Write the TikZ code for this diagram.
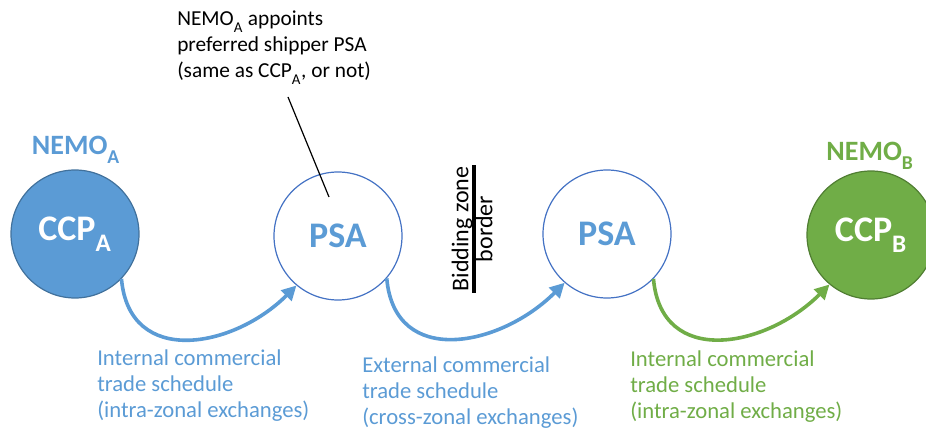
\documentclass[tikz,border=0pt]{standalone}
\usepackage{fontspec}
\setmainfont{Carlito}
\usetikzlibrary{arrows.meta}
\definecolor{nemoblue}{HTML}{5B9BD5}
\definecolor{nemoblueedge}{HTML}{41719C}
\definecolor{nemogreen}{HTML}{70AD47}
\definecolor{nemogreenedge}{HTML}{507E32}
\definecolor{psaedge}{HTML}{4472C4}
\newcommand\lowsub[1]{\raisebox{-0.35ex}{\textsubscript{#1}}}
\tikzset{
  party/.style={circle, inner sep=0pt, minimum size=96pt, font=\fontsize{27}{30}\selectfont\bfseries},
  ccpa/.style={party, fill=nemoblue, draw=nemoblueedge, line width=0.9pt, text=white},
  ccpb/.style={party, fill=nemogreen, draw=nemogreenedge, line width=0.9pt, text=white},
  psa/.style={party, fill=white, draw=psaedge, line width=0.9pt, text=nemoblue},
  nemolabel/.style={font=\fontsize{21}{24}\selectfont\bfseries, inner sep=0pt},
  flow/.style={line width=2.7pt, -{Triangle[length=11pt,width=11pt]}, looseness=1.3},
  caption/.style={font=\fontsize{17}{19.5}\selectfont, align=left, inner sep=0pt, anchor=north west},
  note/.style={font=\fontsize{16}{19.5}\selectfont, align=left, inner sep=0pt, anchor=north west},
  border/.style={font=\fontsize{18}{20}\selectfont, rotate=90, inner sep=1pt}
}
\begin{document}
\begin{tikzpicture}[x=0.75pt, y=-0.75pt]
  \useasboundingbox (0,0) rectangle (926,431);

  % parties
  \node[ccpa] (ccpa) at (75,234) {CCP\lowsub{A}};
  \node[psa]  (psa1) at (338,236) {PSA};
  \node[psa]  (psa2) at (607,234) {PSA};
  \node[ccpb] (ccpb) at (871,235) {CCP\lowsub{B}};

  % exchange names
  \node[nemolabel, text=nemoblue]  (nemoa) at (76,150) {NEMO\lowsub{A}};
  \node[nemolabel, text=nemogreen] (nemob) at (870,156) {NEMO\lowsub{B}};

  % trade schedules
  \draw[flow, nemoblue]  (ccpa.-44) to[out=-85, in=-135] (psa1.-130);
  \draw[flow, nemoblue]  (psa1.-41) to[out=-85, in=-135] (psa2.-131);
  \draw[flow, nemogreen] (psa2.-44) to[out=-85, in=-135] (ccpb.-130);

  % bidding zone border
  \node[border, anchor=south] (bidding) at (474,229) {Bidding zone};
  \node[border, anchor=north] (bordertxt) at (474,229) {border};
  \draw[line width=2.4pt] (bidding.south west) -- (bidding.south east);

  % note on the preferred shipper
  \node[note, text=black] (note) at (177,11)
    {NEMO\lowsub{A} appoints\\preferred shipper PSA\\(same as CCP\lowsub{A}, or not)};
  \coordinate (notefoot) at (288,97);
  \coordinate (pin) at (329,197);
  \draw[line width=0.9pt] (notefoot) -- (pin);

  % captions under the flows
  \node[caption, text=nemoblue]  (cap1) at (97,349)
    {Internal commercial\\trade schedule\\(intra-zonal exchanges)};
  \node[caption, text=nemoblue]  (cap2) at (362,356)
    {External commercial\\trade schedule\\(cross-zonal exchanges)};
  \node[caption, text=nemogreen] (cap3) at (630,350)
    {Internal commercial\\trade schedule\\(intra-zonal exchanges)};
\end{tikzpicture}
\end{document}
